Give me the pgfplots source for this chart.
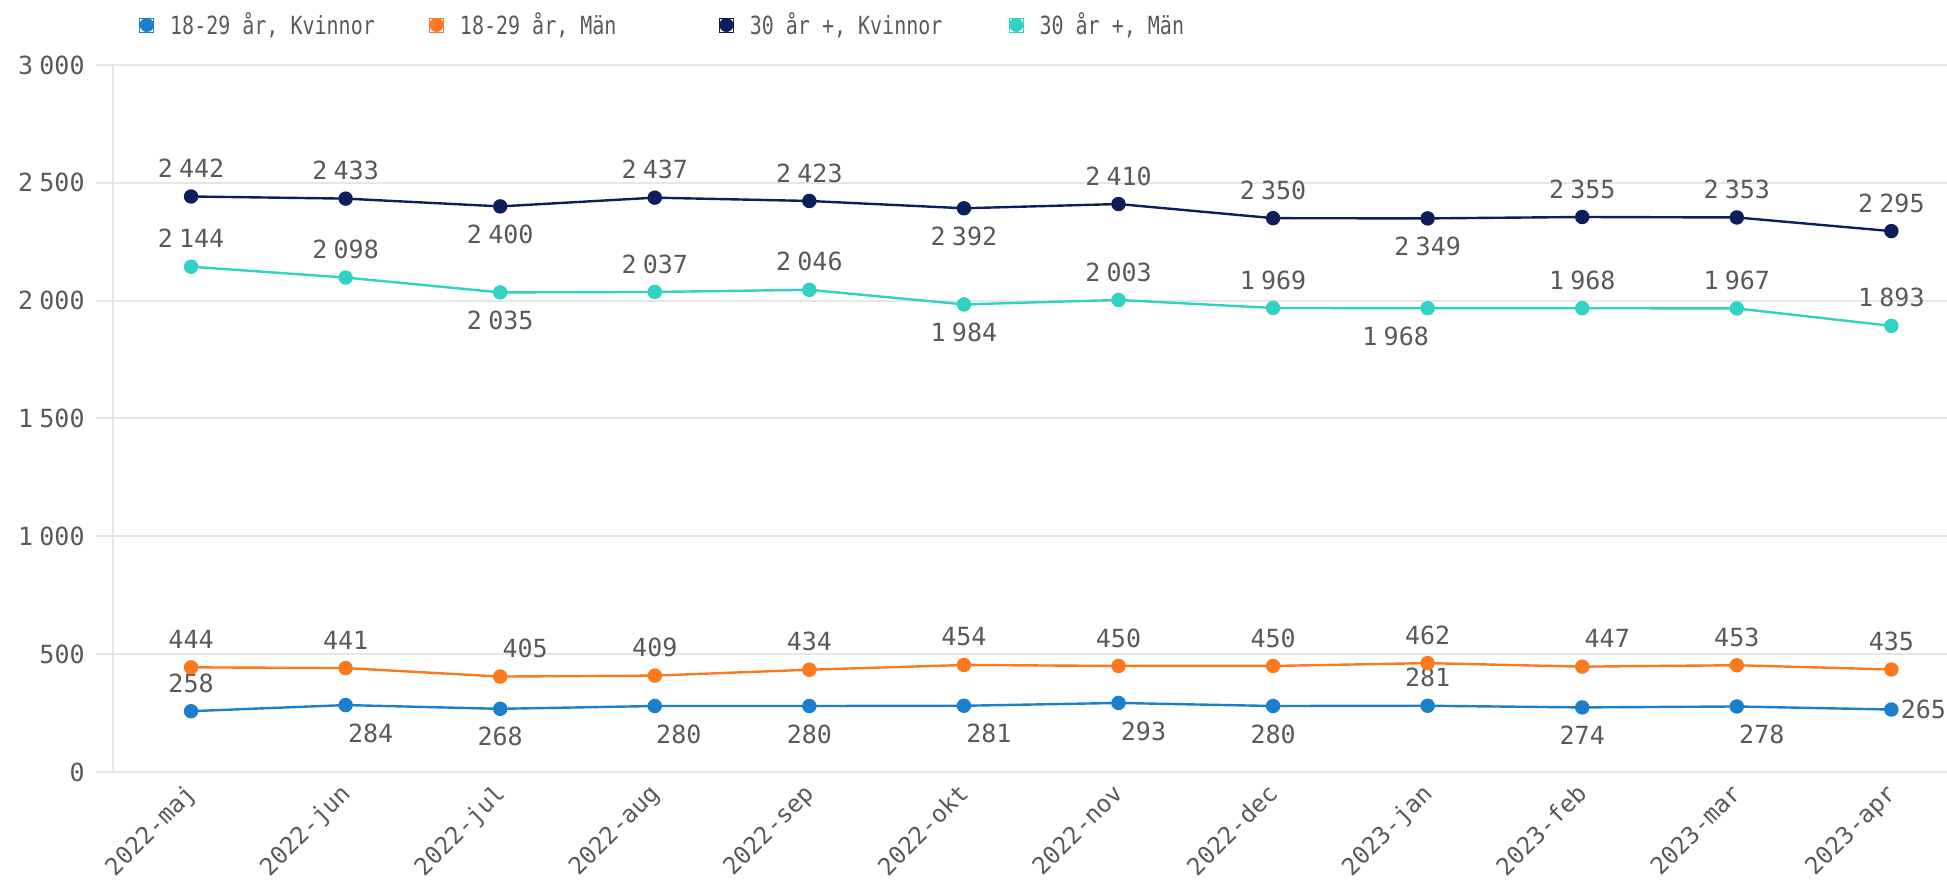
\documentclass[border=0pt]{standalone}
\usepackage{fontspec}
\setmainfont{DejaVu Sans Mono}
\newfontfamily\legfont{DejaVu Sans Mono}[FakeStretch=0.8]
\usepackage{pgfplots}
\usepackage{pgfplotstable}
\pgfplotsset{compat=1.18}

\definecolor{cblue}{HTML}{1B7FCC}
\definecolor{corange}{HTML}{FB7A1E}
\definecolor{cnavy}{HTML}{0D1E5C}
\definecolor{cturq}{HTML}{2FD2C3}
\definecolor{cgrid}{HTML}{E6E6E6}
\definecolor{ctext}{HTML}{595959}

\pgfplotstableread{
x y dx dy
0 258 0 14
1 284 12.5 -14
2 268 0 -14
3 280 12 -14
4 280 0 -14
5 281 12.5 -14
6 293 12.5 -14
7 280 0 -14
8 281 0 14
9 274 0 -14
10 278 12.5 -14
11 265 16 0
}\tblblue

\pgfplotstableread{
x y dx dy
0 444 0 14
1 441 0 14
2 405 12.5 14
3 409 0 14
4 434 0 14
5 454 0 14
6 450 0 14
7 450 0 14
8 462 0 14
9 447 12.5 14
10 453 0 14
11 435 0 14
}\tblorange

\pgfplotstableread{
x y dx dy
0 2442 0 14
1 2433 0 14
2 2400 0 -14
3 2437 0 14
4 2423 0 14
5 2392 0 -14
6 2410 0 14
7 2350 0 14
8 2349 0 -14
9 2355 0 14
10 2353 0 14
11 2295 0 14
}\tblnavy

\pgfplotstableread{
x y dx dy
0 2144 0 14
1 2098 0 14
2 2035 0 -14
3 2037 0 14
4 2046 0 14
5 1984 0 -14
6 2003 0 14
7 1969 0 14
8 1968 -16 -14
9 1968 0 14
10 1967 0 14
11 1893 0 14
}\tblturq

\newcommand{\chfont}{\fontsize{12.5}{15}\selectfont}

\pgfplotsset{
  series/.style={
    forget plot,
    line width=1.2pt, mark=*, mark size=3pt, mark options={solid},
    nodes near coords,
    visualization depends on={\thisrow{dx}\as\lblx},
    visualization depends on={\thisrow{dy}\as\lbly},
    every node near coord/.append style={font=\chfont, text=ctext, anchor=center, inner sep=0pt, xshift=\lblx pt, yshift=\lbly pt},
  },
}

\begin{document}
\begin{tikzpicture}
\begin{axis}[
  scale only axis, width=917pt, height=353.5pt,
  xmin=-0.505, xmax=11.36, ymin=0, ymax=3000,
  clip=false,
  axis lines*=left,
  axis line style={-, cgrid, line width=1pt},
  ymajorgrids, grid style={cgrid, line width=1pt},
  ytick={0,500,...,3000},
  xtick={0,...,11},
  xticklabels={2022-maj,2022-jun,2022-jul,2022-aug,2022-sep,2022-okt,2022-nov,2022-dec,2023-jan,2023-feb,2023-mar,2023-apr},
  scaled y ticks=false,
  /pgf/number format/.cd, 1000 sep={\hspace{0.25em}}, assume math mode=true, /pgfplots/.cd,
  tick align=outside, major tick length=8.5pt,
  xtick style={draw=none},
  ytick style={cgrid, line width=1pt},
  tick label style={font=\chfont, text=ctext},
  yticklabel style={anchor=east, inner sep=0pt, xshift=-5.5pt},
  xticklabel style={font=\fontsize{12}{14}\selectfont, xshift=-3.5pt, yshift=6.4pt, rotate=45, anchor=north east, inner sep=2pt},
  legend columns=4,
  legend style={draw=none, fill=none, at={(axis description cs:0.0109,1.0566)}, anchor=west,
    nodes={inner sep=0pt}, column sep=0pt, font=\legfont\chfont, text=ctext},
  legend image code/.code={\path (0pt,-3.5pt) rectangle (7pt,3.5pt); \fill (3.5pt,0pt) circle (3.3pt);},
]
\addlegendimage{color=cblue}
\addlegendentry{\hspace{8pt}\makebox[129.5pt][l]{18-29 år, Kvinnor}}
\addlegendimage{color=corange}
\addlegendentry{\hspace{8pt}\makebox[129.5pt][l]{18-29 år, Män}}
\addlegendimage{color=cnavy}
\addlegendentry{\hspace{8pt}\makebox[129.5pt][l]{30 år +, Kvinnor}}
\addlegendimage{color=cturq}
\addlegendentry{\hspace{8pt}\makebox[129.5pt][l]{30 år +, Män}}
\addplot[series, color=cblue] table[x=x,y=y] {\tblblue};
\addplot[series, color=corange] table[x=x,y=y] {\tblorange};
\addplot[series, color=cnavy] table[x=x,y=y] {\tblnavy};
\addplot[series, color=cturq] table[x=x,y=y] {\tblturq};
\end{axis}
\pgfresetboundingbox
\path[use as bounding box] (-56.5pt,-54.5pt) rectangle (917pt,386pt);
\end{tikzpicture}
\end{document}
